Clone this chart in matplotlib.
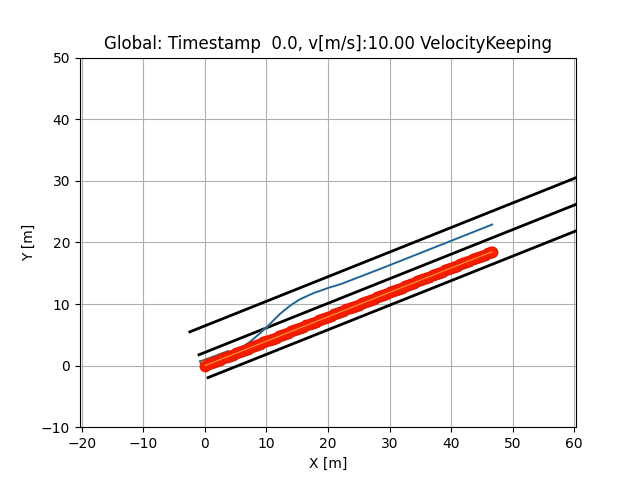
import matplotlib
matplotlib.use("Agg")
import matplotlib.pyplot as plt

# lane boundaries (start point, end point)
lane_x = [[-2.46, 72.1], [-0.98, 73.6], [0.5, 75.06]]
lane_y = [[5.48, 35.2], [1.76, 31.46], [-1.95, 27.74]]

# ego vehicle footprint
ego_x = [-0.8, 3.8, 4.3, -0.3, -0.8]
ego_y = [0.7, 2.4, 1.1, -0.6, 0.7]

# planned trajectory (lane change)
traj_x = [4.0, 5.7, 7.3, 8.9, 10.6, 12.2, 13.8, 15.4, 17.6, 20.3, 22.0, 28.5, 46.7]
traj_y = [2.1, 2.75, 3.85, 5.2, 6.8, 8.4, 9.7, 10.75, 11.75, 12.7, 13.2, 15.7, 22.9]

# reference path points
ref_x = [0.0, 0.5, 1.0, 1.5, 2.0, 2.5, 3.0, 3.5, 4.0, 4.5, 5.0, 5.5, 6.0, 6.5, 7.0, 7.5,
         8.0, 8.5, 9.0, 9.5, 10.0, 10.5, 11.0, 11.5, 12.0, 12.5, 13.0, 13.5, 14.0, 14.5,
         15.0, 15.5, 16.0, 16.5, 17.0, 17.5, 18.0, 18.5, 19.0, 19.5, 20.0, 20.5, 21.0,
         21.5, 22.0, 22.5, 23.0, 23.5, 24.0, 24.5, 25.0, 25.5, 26.0, 26.5, 27.0, 27.5,
         28.0, 28.5, 29.0, 29.5, 30.0, 30.5, 31.0, 31.5, 32.0, 32.5, 33.0, 33.5, 34.0,
         34.5, 35.0, 35.5, 36.0, 36.5, 37.0, 37.5, 38.0, 38.5, 39.0, 39.5, 40.0, 40.5,
         41.0, 41.5, 42.0, 42.5, 43.0, 43.5, 44.0, 44.5, 45.0, 45.5, 46.0, 46.5, 46.7]
ref_y = [0.00, 0.20, 0.40, 0.59, 0.79, 0.99, 1.19, 1.39, 1.58, 1.78, 1.98, 2.18, 2.38,
         2.57, 2.77, 2.97, 3.17, 3.37, 3.56, 3.76, 3.96, 4.16, 4.36, 4.55, 4.75, 4.95,
         5.15, 5.35, 5.54, 5.74, 5.94, 6.14, 6.34, 6.53, 6.73, 6.93, 7.13, 7.33, 7.52,
         7.72, 7.92, 8.12, 8.32, 8.51, 8.71, 8.91, 9.11, 9.31, 9.50, 9.70, 9.90, 10.10,
         10.30, 10.49, 10.69, 10.89, 11.09, 11.29, 11.48, 11.68, 11.88, 12.08, 12.28,
         12.47, 12.67, 12.87, 13.07, 13.27, 13.46, 13.66, 13.86, 14.06, 14.26, 14.45,
         14.65, 14.85, 15.05, 15.25, 15.44, 15.64, 15.84, 16.04, 16.24, 16.43, 16.63,
         16.83, 17.03, 17.23, 17.42, 17.62, 17.82, 18.02, 18.22, 18.41, 18.49]

fig, ax = plt.subplots(figsize=(6.4, 4.8), dpi=100)

for lx, ly in zip(lane_x, lane_y):
    ax.plot(lx, ly, color="black", lw=2, zorder=3)

ax.plot(ego_x, ego_y, color="#606060", lw=1.2, zorder=3)
ax.plot(traj_x, traj_y, color="#58a890", lw=1.6, zorder=4)
ax.plot(traj_x, traj_y, color="#1a3fb0", lw=0.7, zorder=5)

ax.plot(ref_x, ref_y, "o", color="#ff2200", markeredgecolor="#e81a00", markersize=7.5, zorder=6)
ax.plot(ref_x, ref_y, "-", color="#ff9a30", lw=0.8, zorder=7)

ax.set_xlim(-20.32, 60.32)
ax.set_ylim(-10, 50)
ax.grid(True)
ax.set_xlabel("X [m]")
ax.set_ylabel("Y [m]")
ax.set_title("Global: Timestamp  0.0, v[m/s]:10.00 VelocityKeeping")

fig.savefig("out.png")
